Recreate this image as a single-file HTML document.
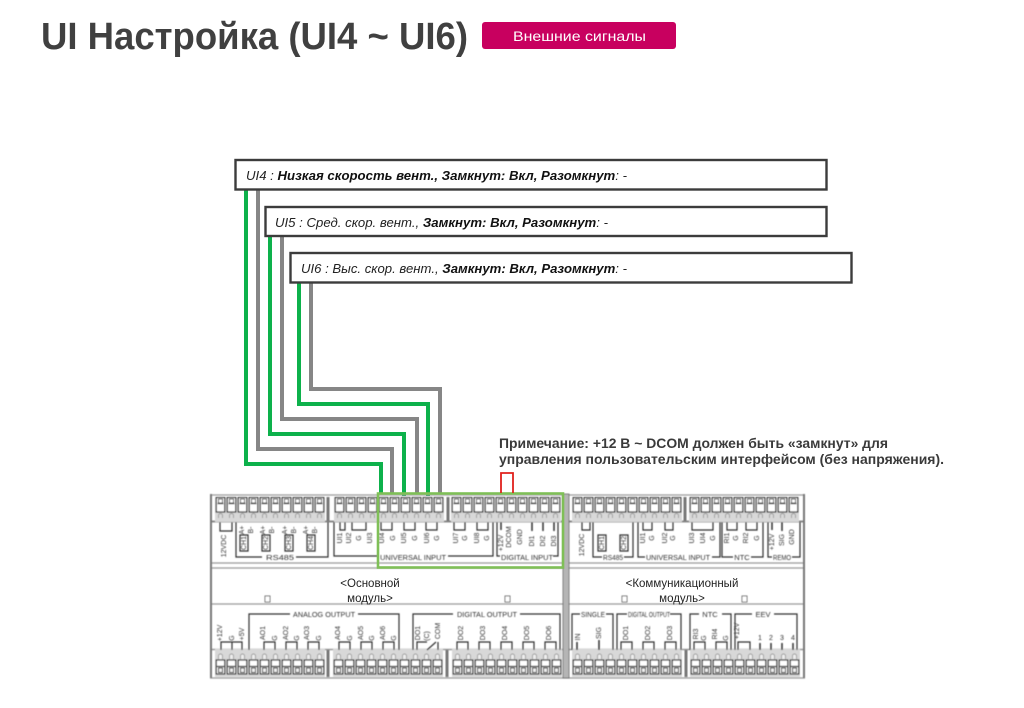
<!DOCTYPE html>
<html lang="ru"><head><meta charset="utf-8"><title>UI Настройка</title>
<style>
html,body{margin:0;padding:0;background:#fff;width:1024px;height:708px;overflow:hidden}
svg{display:block}
text{font-family:"Liberation Sans","DejaVu Sans",sans-serif}
.s text{font-size:7px;fill:#333;text-anchor:middle}
.h text{font-size:7.500px;fill:#333;text-anchor:middle}
.t{font-size:13px;font-style:italic;fill:#222}
.t tspan{font-weight:bold;fill:#111}
.br{fill:none;stroke:#333;stroke-width:1.200}
</style></head><body>
<svg width="1024" height="708" viewBox="0 0 1024 708" xmlns="http://www.w3.org/2000/svg">
<defs>
<filter id="b" x="-2%" y="-2%" width="104%" height="104%"><feGaussianBlur stdDeviation="0.5"/></filter>
<pattern id="top" x="0" y="497" width="11" height="25" patternUnits="userSpaceOnUse">
<rect width="11" height="25" fill="#d8d8d8"/>
<rect x="1.200" y="0.500" width="8.600" height="14.500" fill="#fff" stroke="#222" stroke-width="1.200"/>
<path d="M2.500 6.500h6" stroke="#222" stroke-width="1.300"/>
<rect x="3.500" y="2" width="4" height="4" fill="#fff" stroke="#444" stroke-width="1"/>
<path d="M3.500 21v-2.500a2 2 0 0 1 4 0V21" fill="none" stroke="#999" stroke-width=".9"/>
</pattern>
<pattern id="bot" x="0" y="649" width="11" height="28" patternUnits="userSpaceOnUse">
<rect width="11" height="28" fill="#d8d8d8"/>
<path d="M3.500 10V7a2 2 0 0 1 4 0V10" fill="#eee" stroke="#999" stroke-width=".9"/>
<rect x="1.200" y="11" width="8.600" height="14" fill="#fff" stroke="#222" stroke-width="1.200"/>
<path d="M2 17.500h7" stroke="#222" stroke-width="1.300"/>
<rect x="3.500" y="19" width="4" height="4.500" fill="#eee" stroke="#222" stroke-width="1"/>
</pattern>
</defs>

<rect width="1024" height="708" fill="#fff"/>

<text x="41" y="49" font-size="38" font-weight="bold" fill="#404040" textLength="427" lengthAdjust="spacingAndGlyphs">UI Настройка (UI4 ~ UI6)</text>
<rect x="482" y="22" width="194" height="27" rx="3" fill="#c8005f"/>
<text x="513" y="41" font-size="14" fill="#fff" textLength="133" lengthAdjust="spacingAndGlyphs">Внешние сигналы</text>

<!-- wires -->
<g fill="none" stroke-width="4">
<path d="M246 190V464H381V494" stroke="#0db14b"/>
<path d="M258 190V449H392V494" stroke="#868686"/>
<path d="M270 236V434H404V496" stroke="#0db14b"/>
<path d="M282 236V419H417V494" stroke="#868686"/>
<path d="M299 283V404H428V496" stroke="#0db14b"/>
<path d="M311 283V389H440V494" stroke="#868686"/>
</g>

<!-- boxes -->
<g fill="#fff" stroke="#3c3c3c" stroke-width="2.400">
<rect x="235.500" y="160" width="591" height="29.500"/>
<rect x="265.500" y="207" width="561" height="29"/>
<rect x="290.500" y="253" width="561" height="29.500"/>
</g>
<text class="t" x="246" y="180" textLength="381" lengthAdjust="spacingAndGlyphs">UI4 : <tspan>Низкая скорость вент., Замкнут: Вкл, Разомкнут</tspan>: -</text>
<text class="t" x="275" y="227" textLength="333" lengthAdjust="spacingAndGlyphs">UI5 : Сред. скор. вент., <tspan>Замкнут: Вкл, Разомкнут</tspan>: -</text>
<text class="t" x="301" y="273" textLength="326" lengthAdjust="spacingAndGlyphs">UI6 : Выс. скор. вент., <tspan>Замкнут: Вкл, Разомкнут</tspan>: -</text>

<!-- note -->
<text x="499" y="448" font-size="13.500" font-weight="bold" fill="#3a3a3a" textLength="389" lengthAdjust="spacingAndGlyphs">Примечание: +12 В ~ DCOM должен быть «замкнут» для</text>
<text x="499" y="464" font-size="13.500" font-weight="bold" fill="#3a3a3a" textLength="445" lengthAdjust="spacingAndGlyphs">управления пользовательским интерфейсом (без напряжения).</text>

<!-- hardware -->
<g filter="url(#b)">
<path d="M210 495H805M210 563H805M210 568H805M210 604H805M210 678H805" stroke="#999" stroke-width="1.200" fill="none"/>
<path d="M210 521.500H805" stroke="#888" stroke-width="2" fill="none"/>
<path d="M210 649.500H805" stroke="#999" stroke-width="1.500" fill="none"/>
<path d="M211 494V678M804 494V678" stroke="#777" stroke-width="2" fill="none"/>
<rect x="563" y="494" width="6" height="184" fill="#b5b5b5" stroke="#666" stroke-width=".8"/>
<g transform="translate(215,0)"><rect width="110" y="497" height="25" fill="url(#top)"/></g>
<g transform="translate(334,0)"><rect width="110" y="497" height="25" fill="url(#top)"/></g>
<g transform="translate(451,0)"><rect width="110" y="497" height="25" fill="url(#top)"/></g>
<g transform="translate(572,0)"><rect width="110" y="497" height="25" fill="url(#top)"/></g>
<g transform="translate(689,0)"><rect width="110" y="497" height="25" fill="url(#top)"/></g>
<g transform="translate(215,0)"><rect width="110" y="649" height="28" fill="url(#bot)"/></g>
<g transform="translate(333,0)"><rect width="110" y="649" height="28" fill="url(#bot)"/></g>
<g transform="translate(452,0)"><rect width="110" y="649" height="28" fill="url(#bot)"/></g>
<g transform="translate(572,0)"><rect width="110" y="649" height="28" fill="url(#bot)"/></g>
<g transform="translate(690,0)"><rect width="110" y="649" height="28" fill="url(#bot)"/></g>
<path d="M328 497V521M448 497V521M685 497V521M328 650V677M447 650V677M686 650V677" stroke="#777" stroke-width="3" fill="none"/>
<g fill="#fff" stroke="#666" stroke-width=".9">
<rect x="265" y="596" width="5" height="6"/><rect x="505" y="596" width="5" height="6"/><rect x="622" y="596" width="5" height="6"/><rect x="742" y="596" width="5" height="6"/>
</g>

<!-- brackets -->
<g class="br">
<path d="M236 522V557H262M296 557H328V522"/>
<path d="M334 522V556H378M448 556H493V522"/>
<path d="M497 522V556H500M553 556H558V522"/>
<path d="M593 522V557H602M624 557H633V522"/>
<path d="M638 522V557H645M712 557H720V522"/>
<path d="M722 522V557H733M751 557H763V522"/>
<path d="M768 522V557H772M792 557H800V522"/>
<path d="M249 650V614H290M358 614H399V650"/>
<path d="M413 650V614H453M520 614H560V650"/>
<path d="M572 650V614H580M606 614H613V650"/>
<path d="M617 650V614H627M670 614H681V650"/>
<path d="M690 650V614H699M722 614H731V650"/>
<path d="M735 650V614H752M774 614H797V650"/>
<path d="M220 522V531H232V522M340 522V530H345V522M352 522V530H366V522M381 522V530H392V522M404 522V530H415V522M426 522V530H437V522M454 522V530H465V522M477 522V530H488V522"/>
<path d="M221 650V642H242V650M232 642V650M264 650V642H275V650M286 650V642H297V650M308 650V642H319V650M339 650V642H350V650M361 650V642H372V650M383 650V642H394V650M417 650V642H427M438 642V650M427 650L436 642M457 650V642H468V650M479 650V642H490V650M501 650V642H512V650M523 650V642H534V650M545 650V642H556V650"/>
<path d="M621 650V642H632V650M643 650V642H654V650M665 650V642H676V650M694 650V642H705V650M716 650V642H727V650M738 650V642H750V650"/>
<path d="M582 522V530H590V522M643 522V530H652V522M665 522V530H673V522M692 522V530H713V522M727 522V530H737V522M746 522V530H757V522"/>
<path d="M240 535h8v16h-8zM262 535h8v16h-8zM285 535h8v16h-8zM307 535h8v16h-8zM598 535h8v16h-8zM620 535h8v16h-8z"/>
<path d="M501 522V530M532 522V531M543 522V531M554 522V531M772 522V530M782 522V531M577 650V642M599 650V640M760 650V643M771 650V643M782 650V643M793 650V643" stroke-width="1.500"/>
</g>

<g class="h">
<text x="280" y="560" textLength="28" lengthAdjust="spacingAndGlyphs">RS485</text><text x="413" y="560" textLength="66" lengthAdjust="spacingAndGlyphs">UNIVERSAL INPUT</text><text x="527" y="560" textLength="52" lengthAdjust="spacingAndGlyphs">DIGITAL INPUT</text>
<text x="613" y="560" textLength="20" lengthAdjust="spacingAndGlyphs">RS485</text><text x="678" y="560" textLength="64" lengthAdjust="spacingAndGlyphs">UNIVERSAL INPUT</text><text x="742" y="560">NTC</text><text x="782" y="560" textLength="18" lengthAdjust="spacingAndGlyphs">REMO</text>
<text x="324" y="617" textLength="62" lengthAdjust="spacingAndGlyphs">ANALOG OUTPUT</text><text x="487" y="617" textLength="60" lengthAdjust="spacingAndGlyphs">DIGITAL OUTPUT</text>
<text x="593" y="617" textLength="24" lengthAdjust="spacingAndGlyphs">SINGLE</text><text x="649" y="617" textLength="42" lengthAdjust="spacingAndGlyphs">DIGITAL OUTPUT</text><text x="710" y="617">NTC</text><text x="763" y="617">EEV</text>
</g>

<g class="s">
<text transform="translate(226,546) rotate(-90)">12VDC</text>
<text transform="translate(246,543) rotate(-90)">CH1</text><text transform="translate(268,543) rotate(-90)">CH2</text><text transform="translate(291,543) rotate(-90)">CH3</text><text transform="translate(313,543) rotate(-90)">CH4</text>
<text transform="translate(244,530) rotate(-90)">A+</text><text transform="translate(253,530) rotate(-90)">B-</text><text transform="translate(265,530) rotate(-90)">A+</text><text transform="translate(274,530) rotate(-90)">B-</text><text transform="translate(287,530) rotate(-90)">A+</text><text transform="translate(296,530) rotate(-90)">B-</text><text transform="translate(308,530) rotate(-90)">A+</text><text transform="translate(317,530) rotate(-90)">B-</text>
<text transform="translate(342,538) rotate(-90)">UI1</text><text transform="translate(351,538) rotate(-90)">UI2</text><text transform="translate(361,538) rotate(-90)">G</text><text transform="translate(372,538) rotate(-90)">UI3</text><text transform="translate(384,538) rotate(-90)">UI4</text><text transform="translate(395,538) rotate(-90)">G</text><text transform="translate(406,538) rotate(-90)">UI5</text><text transform="translate(417,538) rotate(-90)">G</text><text transform="translate(429,538) rotate(-90)">UI6</text><text transform="translate(439,538) rotate(-90)">G</text>
<text transform="translate(458,538) rotate(-90)">UI7</text><text transform="translate(467,538) rotate(-90)">G</text><text transform="translate(479,538) rotate(-90)">UI8</text><text transform="translate(489,538) rotate(-90)">G</text>
<text transform="translate(503,543) rotate(-90)">+12V</text><text transform="translate(511,537) rotate(-90)">DCOM</text><text transform="translate(522,537) rotate(-90)">GND</text><text transform="translate(534,541) rotate(-90)">DI1</text><text transform="translate(545,541) rotate(-90)">DI2</text><text transform="translate(556,541) rotate(-90)">DI3</text>

<text transform="translate(584,545) rotate(-90)">12VDC</text><text transform="translate(604,543) rotate(-90)">CH1</text><text transform="translate(626,543) rotate(-90)">CH2</text>
<text transform="translate(645,538) rotate(-90)">UI1</text><text transform="translate(654,538) rotate(-90)">G</text><text transform="translate(667,538) rotate(-90)">UI2</text><text transform="translate(675,538) rotate(-90)">G</text><text transform="translate(694,538) rotate(-90)">UI3</text><text transform="translate(705,538) rotate(-90)">UI4</text><text transform="translate(715,538) rotate(-90)">G</text>
<text transform="translate(729,538) rotate(-90)">RI1</text><text transform="translate(738,538) rotate(-90)">G</text><text transform="translate(748,538) rotate(-90)">RI2</text><text transform="translate(759,538) rotate(-90)">G</text>
<text transform="translate(774,542) rotate(-90)">+12V</text><text transform="translate(784,540) rotate(-90)">SIG</text><text transform="translate(794,537) rotate(-90)">GND</text>

<text transform="translate(222,633) rotate(-90)">+12V</text><text transform="translate(234,638) rotate(-90)">G</text><text transform="translate(244,634) rotate(-90)">+5V</text>
<text transform="translate(265,633) rotate(-90)">AO1</text><text transform="translate(277,638) rotate(-90)">G</text><text transform="translate(288,633) rotate(-90)">AO2</text><text transform="translate(299,638) rotate(-90)">G</text><text transform="translate(309,633) rotate(-90)">AO3</text><text transform="translate(321,638) rotate(-90)">G</text>
<text transform="translate(340,633) rotate(-90)">AO4</text><text transform="translate(352,638) rotate(-90)">G</text><text transform="translate(363,633) rotate(-90)">AO5</text><text transform="translate(374,638) rotate(-90)">G</text><text transform="translate(385,633) rotate(-90)">AO6</text><text transform="translate(396,638) rotate(-90)">G</text>
<text transform="translate(420,633) rotate(-90)">DO1</text><text transform="translate(429,636) rotate(-90)">(C)</text><text transform="translate(440,631) rotate(-90)">COM</text>
<text transform="translate(463,633) rotate(-90)">DO2</text><text transform="translate(485,633) rotate(-90)">DO3</text><text transform="translate(507,633) rotate(-90)">DO4</text><text transform="translate(529,633) rotate(-90)">DO5</text><text transform="translate(551,633) rotate(-90)">DO6</text>

<text transform="translate(580,637) rotate(-90)">IN</text><text transform="translate(601,633) rotate(-90)">SIG</text>
<text transform="translate(628,633) rotate(-90)">DO1</text><text transform="translate(650,633) rotate(-90)">DO2</text><text transform="translate(672,633) rotate(-90)">DO3</text>
<text transform="translate(698,634) rotate(-90)">RI3</text><text transform="translate(706,638) rotate(-90)">G</text><text transform="translate(717,634) rotate(-90)">RI4</text><text transform="translate(728,638) rotate(-90)">G</text>
<text transform="translate(739,631) rotate(-90)">+12V</text><text x="760" y="640">1</text><text x="771" y="640">2</text><text x="782" y="640">3</text><text x="793" y="640">4</text>
</g>
</g>

<text x="370" y="587" font-size="11.500" fill="#222" text-anchor="middle">&lt;Основной</text>
<text x="370" y="602" font-size="11.500" fill="#222" text-anchor="middle">модуль&gt;</text>
<text x="682" y="587" font-size="11.500" fill="#222" text-anchor="middle">&lt;Коммуникационный</text>
<text x="682" y="602" font-size="11.500" fill="#222" text-anchor="middle">модуль&gt;</text>

<rect x="378" y="493.500" width="185" height="74" fill="none" stroke="#7fbf57" stroke-width="2.600"/>
<path d="M501 493V473H513V493" fill="none" stroke="#e0201c" stroke-width="1.800"/>
</svg>
</body></html>
